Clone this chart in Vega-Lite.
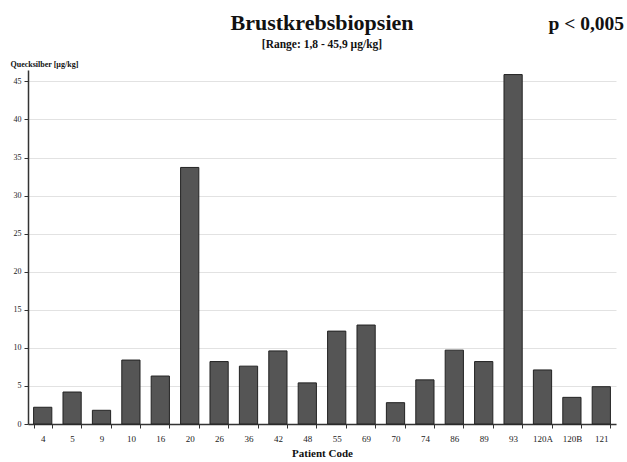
{
  "$schema": "https://vega.github.io/schema/vega-lite/v6.json",
  "autosize": {"type": "none"},
  "padding": {"left": 28, "top": 70, "right": 11, "bottom": 38},
  "width": 588,
  "height": 354,
  "background": "white",
  "config": {"view": {"stroke": null}, "font": "Liberation Serif"},
  "title": {
    "text": "Brustkrebsbiopsien",
    "subtitle": "[Range: 1,8 - 45,9 µg/kg]",
    "font": "Liberation Serif",
    "fontSize": 22,
    "fontWeight": "bold",
    "subtitleFont": "Liberation Serif",
    "subtitleFontSize": 11.5,
    "subtitleFontWeight": "bold",
    "subtitlePadding": 4,
    "color": "#111",
    "subtitleColor": "#111",
    "anchor": "middle",
    "offset": -38
  },
  "data": {
    "values": [
      {"code": "4", "hg": 2.2},
      {"code": "5", "hg": 4.2},
      {"code": "9", "hg": 1.8},
      {"code": "10", "hg": 8.4},
      {"code": "16", "hg": 6.3},
      {"code": "20", "hg": 33.7},
      {"code": "26", "hg": 8.2},
      {"code": "36", "hg": 7.6},
      {"code": "42", "hg": 9.6},
      {"code": "48", "hg": 5.4},
      {"code": "55", "hg": 12.2},
      {"code": "69", "hg": 13.0},
      {"code": "70", "hg": 2.8},
      {"code": "74", "hg": 5.8},
      {"code": "86", "hg": 9.7},
      {"code": "89", "hg": 8.2},
      {"code": "93", "hg": 45.9},
      {"code": "120A", "hg": 7.1},
      {"code": "120B", "hg": 3.5},
      {"code": "121", "hg": 4.9}
    ]
  },
  "layer": [
    {
      "mark": {"type": "bar", "color": "#555555", "stroke": "#222222", "strokeWidth": 1},
      "encoding": {
        "x": {
          "field": "code",
          "type": "nominal",
          "sort": null,
          "scale": {"paddingInner": 0.38, "paddingOuter": 0.19},
          "axis": {
            "title": "Patient Code",
            "titleFont": "Liberation Serif",
            "titleFontSize": 11,
            "titleFontWeight": "bold",
            "titleColor": "#111",
            "titlePadding": 4,
            "labelAngle": 0,
            "labelFont": "Liberation Serif",
            "labelFontSize": 9,
            "labelColor": "#222",
            "labelPadding": 6,
            "tickBand": "extent",
            "tickSize": 4,
            "tickColor": "#333",
            "domainColor": "#333",
            "domainWidth": 1.5,
            "grid": false
          }
        },
        "y": {
          "field": "hg",
          "type": "quantitative",
          "scale": {"domain": [0, 46.5], "nice": false},
          "axis": {
            "title": "Quecksilber [µg/kg]",
            "titleAngle": 0,
            "titleAlign": "left",
            "titleBaseline": "bottom",
            "titleX": -18,
            "titleY": -2,
            "titleFont": "Liberation Serif",
            "titleFontSize": 8,
            "titleFontWeight": "bold",
            "titleColor": "#111",
            "values": [0, 5, 10, 15, 20, 25, 30, 35, 40, 45],
            "labelOverlap": false,
            "labelFont": "Liberation Serif",
            "labelFontSize": 8,
            "labelColor": "#222",
            "labelPadding": 3,
            "tickSize": 4,
            "tickColor": "#333",
            "domainColor": "#333",
            "domainWidth": 1.5,
            "grid": true,
            "gridColor": "#e2e2e2",
            "gridWidth": 1
          }
        }
      }
    },
    {
      "data": {"values": [{"label": "p < 0,005", "code": "121", "pos": 52.6}]},
      "mark": {"type": "text", "font": "Liberation Serif", "fontSize": 19.5, "fontWeight": "bold", "color": "#111", "align": "center", "baseline": "middle", "dx": -15},
      "encoding": {
        "x": {"field": "code", "type": "nominal", "sort": null},
        "y": {
          "field": "pos",
          "type": "quantitative",
          "axis": {
            "title": "Quecksilber [µg/kg]",
            "titleAngle": 0,
            "titleAlign": "left",
            "titleBaseline": "bottom",
            "titleX": -18,
            "titleY": -2,
            "titleFont": "Liberation Serif",
            "titleFontSize": 8,
            "titleFontWeight": "bold",
            "titleColor": "#111",
            "values": [0, 5, 10, 15, 20, 25, 30, 35, 40, 45],
            "labelOverlap": false,
            "labelFont": "Liberation Serif",
            "labelFontSize": 8,
            "labelColor": "#222",
            "labelPadding": 3,
            "tickSize": 4,
            "tickColor": "#333",
            "domainColor": "#333",
            "domainWidth": 1.5,
            "grid": true,
            "gridColor": "#e2e2e2",
            "gridWidth": 1
          }
        },
        "text": {"field": "label"}
      }
    }
  ]
}
